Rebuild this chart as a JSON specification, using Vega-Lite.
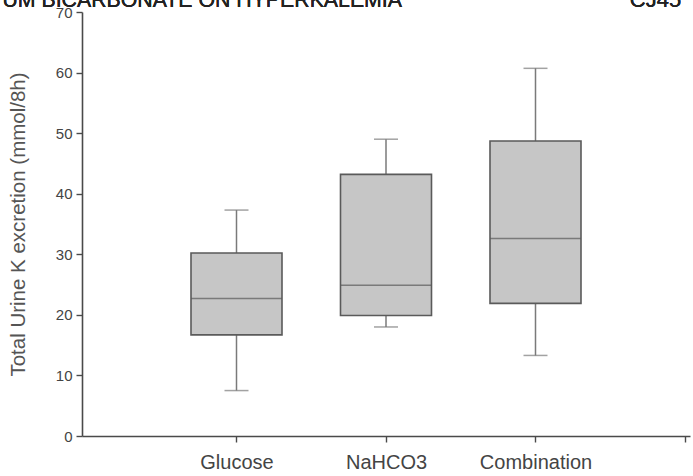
{
  "$schema": "https://vega.github.io/schema/vega-lite/v6.json",
  "width": 608,
  "height": 424,
  "autosize": {"type": "none"},
  "padding": {"left": 82, "top": 12, "right": 3, "bottom": 40},
  "background": "white",
  "config": {
    "view": {"stroke": null},
    "font": "Liberation Sans",
    "axis": {"grid": false, "domainColor": "#4a4a4a", "domainWidth": 1.6, "tickColor": "#4a4a4a", "tickWidth": 1.4, "tickSize": 6, "labelFont": "Liberation Sans", "labelColor": "#444444", "titleFont": "Liberation Sans", "titleColor": "#555555", "titleFontWeight": "normal"}
  },
  "data": {
    "values": [
      {"group": 1, "name": "Glucose", "min": 7.5, "q1": 16.7, "median": 22.7, "q3": 30.2, "max": 37.3},
      {"group": 2, "name": "NaHCO3", "min": 18.0, "q1": 19.9, "median": 24.9, "q3": 43.2, "max": 49.0},
      {"group": 3, "name": "Combination", "min": 13.3, "q1": 21.9, "median": 32.6, "q3": 48.7, "max": 60.7}
    ]
  },
  "encoding": {
    "x": {
      "field": "group", "type": "quantitative",
      "scale": {"domain": [0, 4], "nice": false, "zero": false},
      "axis": {"values": [1, 2, 3, 4], "title": null, "labelFontSize": 20, "labelPadding": 10,
        "labelExpr": "datum.value == 1 ? 'Glucose' : datum.value == 2 ? 'NaHCO3' : datum.value == 3 ? 'Combination' : ''"}
    }
  },
  "layer": [
    {
      "mark": {"type": "rule", "color": "#7a7a7a", "strokeWidth": 1.5},
      "encoding": {
        "y": {"field": "min", "type": "quantitative",
          "scale": {"domain": [0, 70], "nice": false},
          "axis": {"values": [0, 10, 20, 30, 40, 50, 60, 70], "title": "Total Urine K excretion (mmol/8h)", "titleFontSize": 20.5, "titlePadding": 27, "labelFontSize": 15, "labelPadding": 4}},
        "y2": {"field": "max"}
      }
    },
    {
      "mark": {"type": "tick", "orient": "horizontal", "size": 24, "thickness": 1.5, "color": "#7a7a7a"},
      "encoding": {"y": {"field": "min", "type": "quantitative"}}
    },
    {
      "mark": {"type": "tick", "orient": "horizontal", "size": 24, "thickness": 1.5, "color": "#7a7a7a"},
      "encoding": {"y": {"field": "max", "type": "quantitative"}}
    },
    {
      "mark": {"type": "bar", "width": 91, "fill": "#c6c6c6", "stroke": "#5a5a5a", "strokeWidth": 1.6},
      "encoding": {
        "y": {"field": "q1", "type": "quantitative"},
        "y2": {"field": "q3"}
      }
    },
    {
      "mark": {"type": "tick", "orient": "horizontal", "size": 91, "thickness": 1.6, "color": "#5a5a5a"},
      "encoding": {"y": {"field": "median", "type": "quantitative"}}
    },
    {
      "mark": {"type": "text", "text": "UM BICARBONATE ON HYPERKALEMIA", "align": "left", "baseline": "alphabetic", "fontSize": 21.3, "color": "#222222", "clip": false},
      "encoding": {"x": {"datum": -0.566}, "y": {"datum": 70.9}}
    },
    {
      "mark": {"type": "text", "text": "CJ45", "align": "right", "baseline": "alphabetic", "fontSize": 22, "color": "#222222", "clip": false},
      "encoding": {"x": {"datum": 3.974}, "y": {"datum": 70.9}}
    }
  ]
}
